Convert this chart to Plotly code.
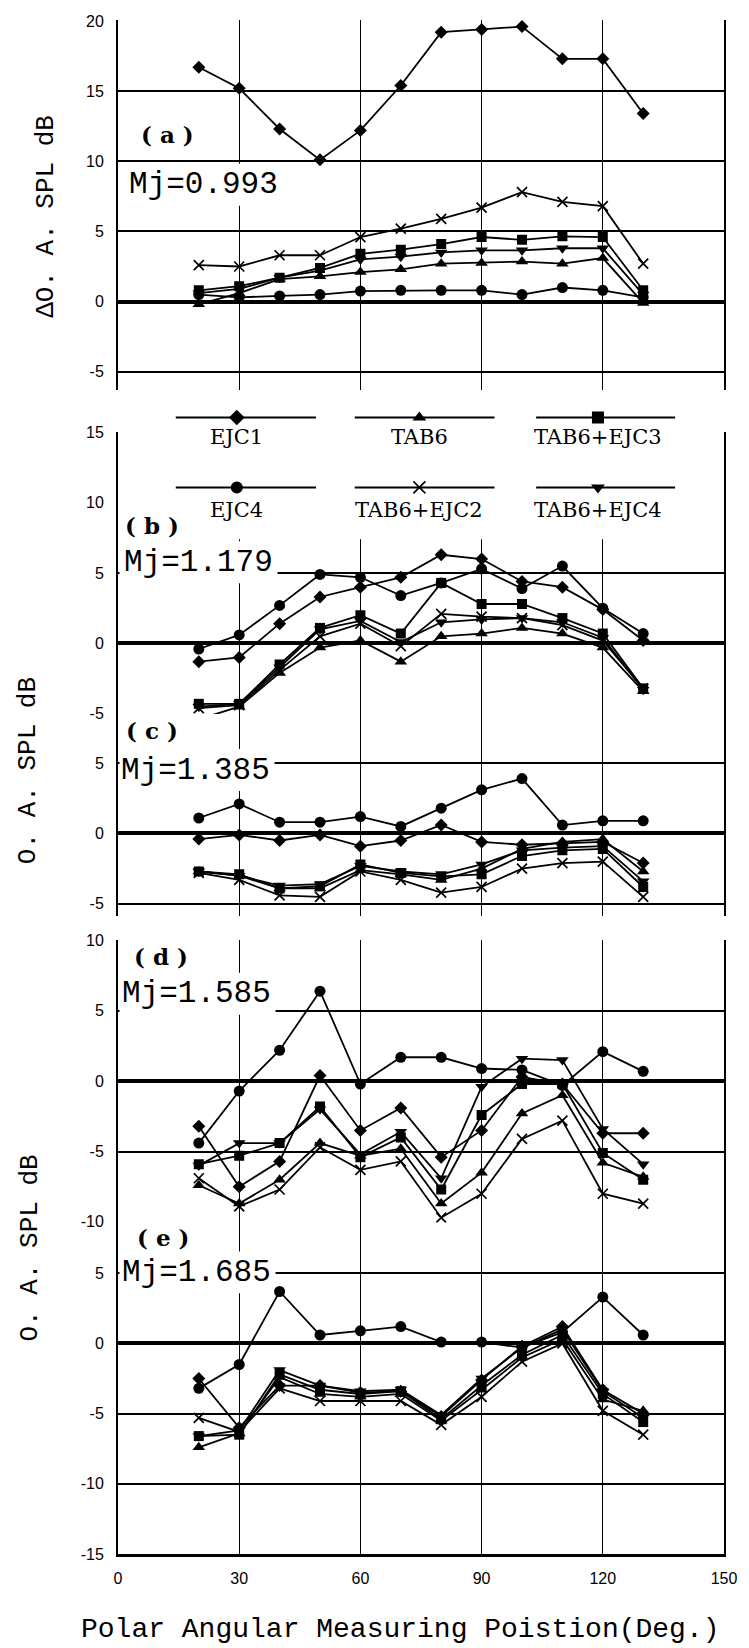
import plotly.graph_objects as go

# ---------------------------------------------------------------- data
angles = [20, 30, 40, 50, 60, 70, 80, 90, 100, 110, 120, 130]

series_names = ["EJC1", "TAB6", "TAB6+EJC3", "EJC4", "TAB6+EJC2", "TAB6+EJC4"]
series_symbols = ["diamond", "triangle-up", "square", "circle", "x-thin", "triangle-down"]

# (a) Mj = 0.993  (delta O.A.SPL)
a_ejc1 = [16.7, 15.2, 12.3, 10.1, 12.2, 15.4, 19.2, 19.4, 19.6, 17.3, 17.3, 13.4]
a_tab6 = [-0.2, 0.6, 1.6, 1.8, 2.1, 2.3, 2.7, 2.75, 2.85, 2.7, 3.1, -0.1]
a_tab6_ejc3 = [0.8, 1.1, 1.7, 2.4, 3.4, 3.7, 4.1, 4.6, 4.4, 4.65, 4.6, 0.8]
a_ejc4 = [0.5, 0.3, 0.4, 0.5, 0.75, 0.8, 0.8, 0.8, 0.5, 1.0, 0.8, 0.3]
a_tab6_ejc2 = [2.6, 2.5, 3.3, 3.3, 4.6, 5.2, 5.9, 6.7, 7.8, 7.1, 6.8, 2.7]
a_tab6_ejc4 = [0.6, 0.9, 1.7, 2.2, 3.0, 3.2, 3.5, 3.65, 3.65, 3.8, 3.8, 0.5]

# (b) Mj = 1.179
b_ejc1 = [-1.3, -1.0, 1.4, 3.3, 4.0, 4.7, 6.3, 6.0, 4.4, 4.0, 2.4, 0.2]
b_tab6 = [-5.4, -4.5, -2.1, -0.3, 0.2, -1.3, 0.5, 0.7, 1.1, 0.7, -0.3, -3.4]
b_tab6_ejc3 = [-4.3, -4.3, -1.5, 1.1, 2.0, 0.7, 4.3, 2.8, 2.8, 1.8, 0.7, -3.2]
b_ejc4 = [-0.4, 0.6, 2.7, 4.9, 4.7, 3.4, 4.3, 5.3, 3.9, 5.5, 2.5, 0.7]
b_tab6_ejc2 = [-4.6, -4.4, -1.9, 0.5, 1.4, -0.2, 2.1, 1.9, 1.8, 1.3, 0.2, -3.2]
b_tab6_ejc4 = [-4.5, -4.3, -1.7, 1.0, 1.6, 0.1, 1.5, 1.7, 1.8, 1.5, 0.4, -3.3]

# (c) Mj = 1.385
c_ejc1 = [-0.4, -0.1, -0.5, -0.1, -0.9, -0.5, 0.6, -0.6, -0.8, -0.7, -0.6, -2.1]
c_tab6 = [-2.7, -3.0, -3.9, -3.9, -2.6, -2.9, -3.3, -2.5, -1.1, -0.6, -0.4, -2.7]
c_tab6_ejc3 = [-2.7, -2.9, -3.9, -3.75, -2.2, -2.8, -3.05, -2.9, -1.6, -1.2, -1.1, -3.8]
c_ejc4 = [1.1, 2.1, 0.8, 0.8, 1.2, 0.5, 1.8, 3.1, 3.9, 0.6, 0.9, 0.9]
c_tab6_ejc2 = [-2.8, -3.3, -4.4, -4.5, -2.7, -3.3, -4.2, -3.8, -2.5, -2.1, -2.0, -4.5]
c_tab6_ejc4 = [-2.7, -3.0, -3.7, -3.6, -2.3, -2.7, -2.9, -2.2, -1.2, -1.0, -0.9, -3.4]

# (d) Mj = 1.585
d_ejc1 = [-3.2, -7.5, -5.7, 0.4, -3.5, -1.9, -5.4, -3.5, 0.3, -0.2, -3.7, -3.7]
d_tab6 = [-7.4, -8.7, -7.0, -4.4, -5.3, -4.8, -8.7, -6.5, -2.3, -1.0, -5.8, -6.8]
d_tab6_ejc3 = [-5.9, -5.3, -4.4, -1.8, -5.4, -4.0, -7.7, -2.4, -0.2, -0.2, -5.1, -7.0]
d_ejc4 = [-4.4, -0.7, 2.2, 6.4, -0.2, 1.7, 1.7, 0.9, 0.8, -0.3, 2.1, 0.7]
d_tab6_ejc2 = [-6.9, -8.9, -7.7, -4.7, -6.3, -5.7, -9.7, -8.0, -4.1, -2.8, -8.0, -8.7]
d_tab6_ejc4 = [-6.0, -4.4, -4.4, -2.0, -5.2, -3.6, -6.9, -0.4, 1.6, 1.5, -3.4, -5.9]

# (e) Mj = 1.685
e_ejc1 = [-2.5, -6.0, -3.0, -3.0, -3.5, -3.4, -5.2, -2.6, -0.2, 1.2, -3.3, -5.0]
e_tab6 = [-7.4, -6.4, -2.4, -3.6, -3.8, -3.6, -5.5, -3.3, -1.0, 0.3, -4.0, -4.8]
e_tab6_ejc3 = [-6.6, -6.5, -2.2, -3.3, -3.6, -3.4, -5.4, -3.0, -0.8, 0.6, -3.6, -5.6]
e_ejc4 = [-3.2, -1.5, 3.7, 0.6, 0.9, 1.2, 0.1, 0.1, -0.3, 0.8, 3.3, 0.6]
e_tab6_ejc2 = [-5.3, -6.3, -3.2, -4.1, -4.1, -4.1, -5.8, -3.8, -1.3, 0.0, -4.8, -6.5]
e_tab6_ejc4 = [-6.6, -6.2, -1.9, -3.0, -3.4, -3.3, -5.1, -2.5, -0.3, 1.0, -3.4, -5.3]

panel_letters = ["a", "b", "c", "d", "e"]
mach_labels = ["Mj=0.993", "Mj=1.179", "Mj=1.385", "Mj=1.585", "Mj=1.685"]
panel_series = [
    [a_ejc1, a_tab6, a_tab6_ejc3, a_ejc4, a_tab6_ejc2, a_tab6_ejc4],
    [b_ejc1, b_tab6, b_tab6_ejc3, b_ejc4, b_tab6_ejc2, b_tab6_ejc4],
    [c_ejc1, c_tab6, c_tab6_ejc3, c_ejc4, c_tab6_ejc2, c_tab6_ejc4],
    [d_ejc1, d_tab6, d_tab6_ejc3, d_ejc4, d_tab6_ejc2, d_tab6_ejc4],
    [e_ejc1, e_tab6, e_tab6_ejc3, e_ejc4, e_tab6_ejc2, e_tab6_ejc4],
]
y_tickvals = [
    [-5, 0, 5, 10, 15, 20],
    [-5, 0, 5, 10, 15],
    [-5, 0, 5],
    [-10, -5, 0, 5, 10],
    [-15, -10, -5, 0, 5],
]
x_tickvals = [0, 30, 60, 90, 120, 150]

# ---------------------------------------------------------------- layout geometry
W, H = 749, 1648
L, R, T, B = 118, 725, 18, 1554          # plot area in pixels


def xp(px):
    return (px - L) / (R - L)


def yp(px):
    return (B - px) / (B - T)


# pixel extent and value range of each stacked panel
panel_px = [(18, 388), (431, 713), (713, 915), (939, 1222), (1222, 1554)]
panel_range = [(-6.27, 20.07), (-5.03, 15.0), (-5.85, 8.48), (-10.04, 10.05), (-15.0, 8.62)]


def px_to_x(px):
    return (px - L) / (R - L) * 150.0


def px_to_y(i, px):
    top, bot = panel_px[i]
    lo, hi = panel_range[i]
    return hi - (px - top) / (bot - top) * (hi - lo)


MONO = "Liberation Mono, DejaVu Sans Mono, monospace"
NARROW = "Liberation Sans Narrow, Liberation Sans, Arial, sans-serif"
SERIF = "DejaVu Serif, Liberation Serif, serif"

marker_sizes = {"diamond": 10, "triangle-up": 11, "square": 10, "circle": 11,
                "x-thin": 10, "triangle-down": 11}


def marker_for(sym, size=None):
    s = size or marker_sizes[sym]
    if sym == "x-thin":
        return dict(symbol=sym, size=s, color="black", line=dict(color="black", width=1.7))
    return dict(symbol=sym, size=s, color="black", line=dict(width=0))


fig = go.Figure()

for i, series in enumerate(panel_series):
    k = "" if i == 0 else str(i + 1)
    for name, sym, vals in zip(series_names, series_symbols, series):
        fig.add_trace(go.Scatter(
            x=angles, y=vals, mode="lines+markers", name=name,
            xaxis="x" + k, yaxis="y" + k, showlegend=False,
            line=dict(color="black", width=1.8),
            marker=marker_for(sym),
        ))

layout = dict(
    width=W, height=H,
    margin=dict(l=L, r=W - R, t=T, b=H - B, pad=0),
    paper_bgcolor="white", plot_bgcolor="white",
    showlegend=False,
    font=dict(family=NARROW, size=16, color="black"),
)

for i in range(5):
    k = "" if i == 0 else str(i + 1)
    top_px, bot_px = panel_px[i]
    last = i == 4
    layout["xaxis" + k] = dict(
        domain=[0, 1], range=[0, 150], anchor="y" + k,
        tickmode="array",
        tickvals=x_tickvals if last else [30, 60, 90, 120],
        ticktext=[str(v) for v in x_tickvals] if last else None,
        showticklabels=last, ticks="",
        showgrid=True, gridcolor="black", gridwidth=1.4,
        zeroline=False,
        showline=last, linecolor="black", linewidth=2.5,
        tickfont=dict(family=NARROW, size=16, color="black"),
        ticklabelstandoff=8,
        fixedrange=True,
    )
    layout["yaxis" + k] = dict(
        domain=[yp(bot_px), yp(top_px)], range=list(panel_range[i]), anchor="x" + k,
        tickmode="array", tickvals=y_tickvals[i],
        ticktext=[str(v) for v in y_tickvals[i]],
        ticks="", ticklabelstandoff=9,
        showgrid=True, gridcolor="black", gridwidth=2,
        zeroline=True, zerolinecolor="black", zerolinewidth=3.5,
        showline=True, mirror=True, linecolor="black", linewidth=2,
        tickfont=dict(family=NARROW, size=16, color="black"),
        fixedrange=True,
    )

# overlay axes hosting the legend key (pixel-like coordinates, hidden)
LEG_TOP, LEG_BOT = 398, 532
layout["xaxis6"] = dict(domain=[0, 1], range=[0, 150], anchor="y6", visible=False, fixedrange=True)
layout["yaxis6"] = dict(domain=[yp(LEG_BOT), yp(LEG_TOP)], range=[LEG_BOT, LEG_TOP],
                        anchor="x6", visible=False, fixedrange=True)

fig.update_layout(**layout)

# white block behind the legend key inside panel (b)
fig.add_shape(type="rect", xref="x2", yref="y2", x0=1.8, x1=148.2, y0=7.4, y1=15.5,
              fillcolor="white", line=dict(width=0), layer="between")

# legend key: line sample with centred symbol, label below
leg_cols = [(14.3, 49.0, 29.4), (58.6, 93.2, 74.6), (103.5, 137.9, 118.8)]
leg_rows = [(416, 436), (486, 509)]
for idx, (name, sym) in enumerate(zip(series_names, series_symbols)):
    r, c = divmod(idx, 3)
    x0, x1, xm = leg_cols[c]
    ly, ty = leg_rows[r]
    fig.add_trace(go.Scatter(x=[x0, x1], y=[ly, ly], mode="lines", xaxis="x6", yaxis="y6",
                             line=dict(color="black", width=2), showlegend=False, hoverinfo="skip"))
    fig.add_trace(go.Scatter(x=[xm], y=[ly], mode="markers", xaxis="x6", yaxis="y6",
                             marker=marker_for(sym, 12), showlegend=False, hoverinfo="skip"))
    fig.add_annotation(x=xm, y=ty, xref="x6", yref="y6", text=name, showarrow=False,
                       font=dict(family=SERIF, size=21, color="black"),
                       xanchor="center", yanchor="middle")

# panel tags and jet Mach numbers (white patch under each Mach label hides the grid)
MJ_SIZE = 31
tag_pos = [(168, 133), (152, 524), (152, 729), (161, 956), (163, 1237)]
mj_pos = [(128, 183), (123, 561), (120, 769), (121, 993), (121, 1272)]
for i in range(5):
    k = "" if i == 0 else str(i + 1)
    tx, ty = tag_pos[i]
    fig.add_annotation(x=xp(tx), y=yp(ty), xref="paper", yref="paper",
                       text="<b>( %s )</b>" % panel_letters[i], showarrow=False,
                       font=dict(family=SERIF, size=23, color="black"),
                       xanchor="center", yanchor="middle")
    mx, my = mj_pos[i]
    text_w = 0.6 * MJ_SIZE * len(mach_labels[i])
    fig.add_shape(type="rect", xref="x" + k, yref="y" + k, layer="between",
                  x0=px_to_x(L + 1.5), x1=px_to_x(mx + text_w + 6),
                  y0=px_to_y(i, my + 21), y1=px_to_y(i, my - 21),
                  fillcolor="white", line=dict(width=0))
    fig.add_annotation(x=xp(mx), y=yp(my), xref="paper", yref="paper",
                       text=mach_labels[i], showarrow=False,
                       font=dict(family=MONO, size=MJ_SIZE, color="black"),
                       xanchor="left", yanchor="middle", borderpad=0)

# axis titles
ytitles = [("\u0394O. A. SPL dB", 46, 215), ("O. A. SPL dB", 28, 770), ("O. A. SPL dB", 30, 1248)]
for txt, cx, cy in ytitles:
    fig.add_annotation(x=xp(cx), y=yp(cy), xref="paper", yref="paper", text=txt,
                       textangle=-90, showarrow=False,
                       font=dict(family=MONO, size=26, color="black"),
                       xanchor="center", yanchor="middle")

fig.add_annotation(x=xp(401), y=yp(1630), xref="paper", yref="paper",
                   text="Polar Angular Measuring Poistion(Deg.)", showarrow=False,
                   font=dict(family=MONO, size=28, color="black"),
                   xanchor="center", yanchor="middle")

fig.write_html("out.html")
